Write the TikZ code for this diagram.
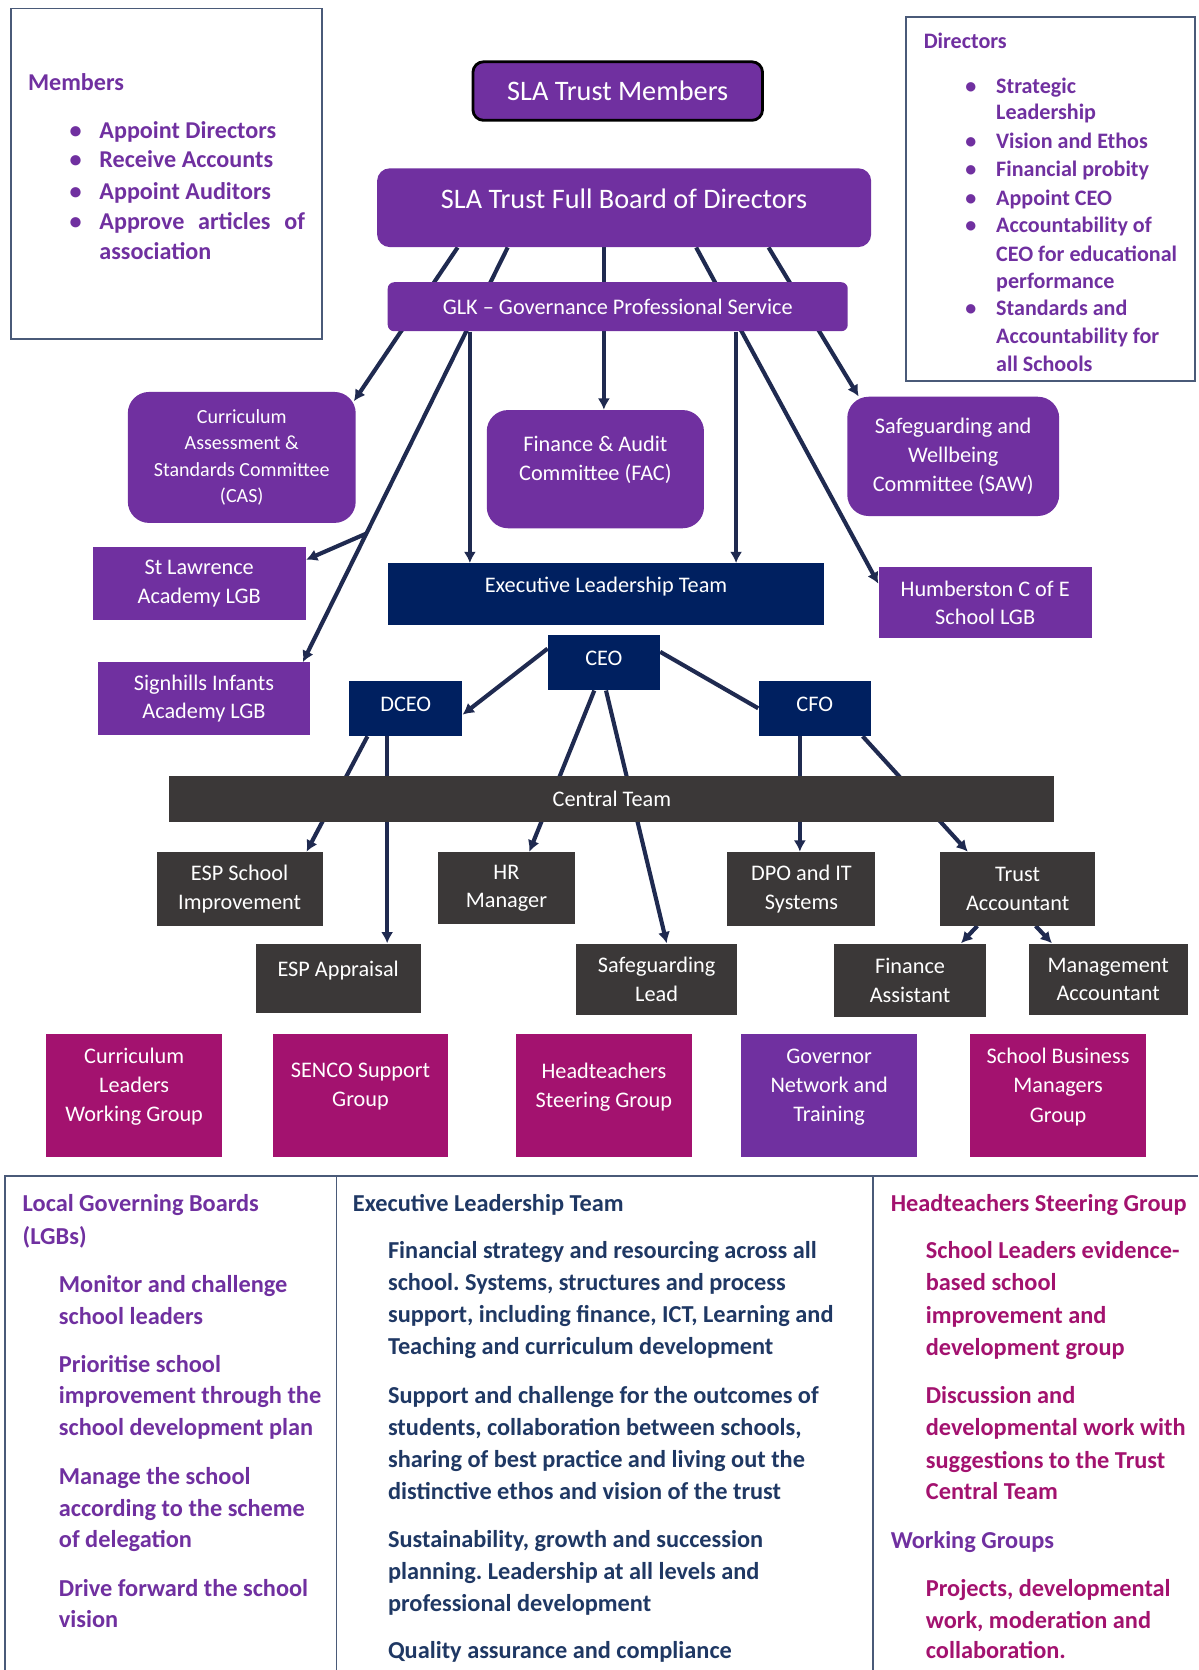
\documentclass[tikz,border=0pt]{standalone}
\usepackage{fontspec}
\setmainfont{Carlito}
\usepackage{tikz}
\usetikzlibrary{arrows.meta,calc}
\pgfdeclarelayer{back}
\pgfdeclarelayer{lines}
\pgfsetlayers{back,lines,main}
\definecolor{slapurple}{HTML}{7030A0}
\definecolor{slanavy}{HTML}{002060}
\definecolor{slagray}{HTML}{3B3838}
\definecolor{slaberry}{HTML}{A3126F}
\definecolor{linenavy}{HTML}{1F2A50}
\definecolor{framegray}{HTML}{4A5A78}
\definecolor{textnavy}{HTML}{1F3864}
\definecolor{textpurple}{HTML}{7030A0}
\definecolor{textberry}{HTML}{A3126F}
\frenchspacing

\begin{document}
\begin{tikzpicture}[x=0.02cm, y=-0.02cm,
    orgbox/.style={inner sep=0pt, align=center, text=white, font=\fontsize{11.9}{15.3}\selectfont},
    comm/.style={orgbox, fill=slapurple, rounded corners=0.4cm},
    lgb/.style={orgbox, fill=slapurple},
    exec/.style={orgbox, fill=slanavy},
    staff/.style={orgbox, fill=slagray},
    grp/.style={orgbox, minimum width=3.3cm, minimum height=2.3cm},
    boxtext/.style={inner sep=0pt, align=center, text=white, font=\fontsize{11.9}{15.6}\selectfont},
    infobox/.style={draw=framegray, line width=1pt, inner sep=0pt},
    conn/.style={draw=linenavy, line width=2.2pt},
    arr/.style={conn, -{Latex[length=6pt,width=6.5pt]}},
    listtext/.style={anchor=west, inner sep=0pt, text height=11pt, text depth=1.2pt, font=\bfseries\fontsize{13}{15}\selectfont},
    memitem/.style={listtext, text=textpurple, font=\bfseries\fontsize{12.9}{15}\selectfont},
    diritem/.style={listtext, text=textpurple, font=\bfseries\fontsize{11.8}{14}\selectfont},
    lgbtext/.style={listtext, text=textpurple},
    elttext/.style={listtext, text=textnavy},
    hsgtext/.style={listtext, text=textberry}]

    \useasboundingbox (0,0) rectangle (1125,1568);
    \begin{pgfonlayer}{back}
        \fill[white] (0,0) rectangle (1125,1568);
    \end{pgfonlayer}

    % Members note
    \node[infobox, minimum width=5.84cm, minimum height=6.2cm] (memnote) at (156,163) {};
    \node[memitem] (memhead) at (26,76) {Members};
    \foreach \y/\bul/\txt [count=\i] in {121/\textbullet/Appoint Directors, 149/\textbullet/Receive Accounts,
        179/\textbullet/Appoint Auditors, 207/\textbullet/{\makebox[3.86cm][s]{Approve articles of}}, 235//association}
        \node[memitem] (mem\i) at (65,\y) {\makebox[0.56cm][l]{\bul}\txt};

    % Directors note
    \node[infobox, minimum width=5.42cm, minimum height=6.84cm] (dirnote) at (986.5,187) {};
    \node[diritem] (dirhead) at (867,37) {Directors};
    \foreach \y/\bul/\txt [count=\i] in {79/\textbullet/Strategic, 104//Leadership, 131/\textbullet/Vision and Ethos,
        157/\textbullet/Financial probity, 184/\textbullet/Appoint CEO, 210/\textbullet/Accountability of,
        237//CEO for educational, 262//performance, 288/\textbullet/Standards and, 314//Accountability for, 340//all Schools}
        \node[diritem] (dir\i) at (906,\y) {\makebox[0.58cm][l]{\bul}\txt};

    % Trust and board
    \node[orgbox, fill=slapurple, draw=black, line width=1.5pt, rounded corners=0.2cm, font=\fontsize{15.1}{18}\selectfont,
        minimum width=5.44cm, minimum height=1.1cm] (members) at (580,85.5) {SLA Trust Members};
    \node[lgb, rounded corners=0.24cm, minimum width=9.28cm, minimum height=1.48cm] (board) at (586,195) {};
    \node[boxtext, font=\fontsize{15.1}{18}\selectfont] (board-t) at ([yshift=0.16cm]board.center) {SLA Trust Full Board of Directors};
    \node[lgb, rounded corners=0.12cm, minimum width=8.64cm, minimum height=0.92cm] (glk) at (580,288) {GLK – Governance Professional Service};

    % Committees
    \node[comm, minimum width=4.28cm, minimum height=2.46cm, font=\fontsize{10.7}{14.2}\selectfont] (cas) at (227,429.5)
        {Curriculum\\Assessment \&\\Standards Committee\\(CAS)};
    \node[comm, minimum width=4.08cm, minimum height=2.22cm] (fac) at (559,440.5) {};
    \node[boxtext] (fac-t) at ([yshift=0.17cm]fac.center) {Finance \& Audit\\Committee (FAC)};
    \node[comm, minimum width=3.98cm, minimum height=2.24cm] (saw) at (895,428.5) {Safeguarding and\\Wellbeing\\Committee (SAW)};

    % Local governing boards
    \node[lgb, minimum width=4cm, minimum height=1.36cm] (stl) at (187,548) {St Lawrence\\Academy LGB};
    \node[lgb, minimum width=3.98cm, minimum height=1.36cm] (sig) at (191.5,656) {Signhills Infants\\Academy LGB};
    \node[lgb, minimum width=4cm, minimum height=1.34cm] (hum) at (925,566) {Humberston C of E\\School LGB};

    % Executive
    \node[exec, minimum width=8.2cm, minimum height=1.16cm] (elt) at (569,558) {};
    \node[boxtext] (elt-t) at ([yshift=0.14cm]elt.center) {Executive Leadership Team};
    \node[exec, minimum width=2.1cm, minimum height=1.04cm] (ceo) at (567,622) {};
    \node[boxtext] (ceo-t) at ([yshift=0.08cm]ceo.center) {CEO};
    \node[exec, minimum width=2.12cm, minimum height=1.04cm] (dceo) at (381,665) {};
    \node[boxtext] (dceo-t) at ([yshift=0.08cm]dceo.center) {DCEO};
    \node[exec, minimum width=2.11cm, minimum height=1.04cm] (cfo) at (765,665) {};
    \node[boxtext] (cfo-t) at ([yshift=0.08cm]cfo.center) {CFO};

    % Central team
    \node[staff, minimum width=16.62cm, minimum height=0.86cm] (central) at (574.5,750.5) {Central Team};
    \node[staff, minimum width=3.12cm, minimum height=1.38cm] (espsi) at (225,834.5) {ESP School\\Improvement};
    \node[staff, minimum width=2.58cm, minimum height=1.36cm] (hr) at (475.5,834) {HR\\Manager};
    \node[staff, minimum width=2.78cm, minimum height=1.38cm] (dpo) at (752.5,834.5) {DPO and IT\\Systems};
    \node[staff, minimum width=2.9cm, minimum height=1.38cm] (tacc) at (955.5,834.5) {Trust\\Accountant};
    \node[staff, minimum width=3.1cm, minimum height=1.3cm] (espa) at (317.5,918.5) {};
    \node[boxtext] (espa-t) at ([yshift=0.15cm]espa.center) {ESP Appraisal};
    \node[staff, minimum width=3.02cm, minimum height=1.34cm] (sgl) at (616.5,919.5) {Safeguarding\\Lead};
    \node[staff, minimum width=2.86cm, minimum height=1.38cm] (fina) at (854.5,920.5) {Finance\\Assistant};
    \node[staff, minimum width=2.98cm, minimum height=1.34cm] (macc) at (1040.5,919.5) {Management\\Accountant};

    % Groups
    \foreach \n/\x/\c/\txt in {clwg/126/slaberry/{Curriculum\\Leaders\\Working Group}, senco/338.5/slaberry/{SENCO Support\\Group},
        hsg/567/slaberry/{Headteachers\\Steering Group}, gnt/778.5/slapurple/{Governor\\Network and\\Training},
        sbm/993.5/slaberry/{School Business\\Managers\\Group}} {
        \node[grp, fill=\c] (\n) at (\x,1028.5) {};
        \node[boxtext] (\n-t) at ([yshift=0.16cm]\n.center) {\txt};
    }

    % Connectors
    \begin{pgfonlayer}{lines}
        \draw[arr] ([xshift=1.52cm]board.south west) -- ([xshift=-0.04cm,yshift=-0.18cm]cas.north east);
        \draw[arr] ([xshift=2.46cm]board.south west) -- coordinate[pos=0.69] (fork) ([xshift=-0.14cm]sig.north east);
        \draw[arr] (fork) -- ([yshift=-0.24cm]stl.north east);
        \draw[arr] ([xshift=0.16cm]fac.north |- board.south) -- ([xshift=0.16cm]fac.north);
        \draw[arr] ([xshift=6cm]board.south west) -- ([yshift=0.36cm]hum.west);
        \draw[arr] ([xshift=7.36cm]board.south west) -- ([xshift=0.22cm]saw.north west);
        \draw[arr] ([xshift=1.55cm]elt.north west |- glk.south) -- ([xshift=1.55cm]elt.north west);
        \draw[arr] ([xshift=6.55cm]elt.north west |- glk.south) -- ([xshift=6.55cm]elt.north west);
        \draw[arr] ([yshift=0.26cm]ceo.west) -- ([yshift=-0.12cm]dceo.east);
        \draw[conn] ([yshift=0.2cm]ceo.east) -- (cfo.west);
        \draw[arr] ([xshift=-0.18cm]ceo.south) -- ([xshift=0.43cm]hr.north);
        \draw[arr] ([xshift=0.04cm]ceo.south) -- ([xshift=0.19cm]sgl.north);
        \draw[arr] ([xshift=-0.72cm]dceo.south) -- ([xshift=-0.31cm]espsi.north east);
        \draw[arr] ([xshift=-0.35cm]dceo.south) -- ([xshift=-0.35cm]dceo.south |- espa.north);
        \draw[arr] ([xshift=-0.28cm]cfo.south) -- ([xshift=-0.28cm]cfo.south |- dpo.north);
        \draw[arr] ([xshift=0.9cm]cfo.south) -- ([xshift=0.52cm]tacc.north west);
        \draw[arr] ([xshift=0.7cm]tacc.south west) -- ([xshift=-0.48cm]fina.north east);
        \draw[arr] ([xshift=-1.12cm]tacc.south east) -- ([xshift=0.44cm]macc.north west);
    \end{pgfonlayer}

    % Roles table
    \draw[framegray, line width=1pt] (5,1568) -- (5,1104) -- (1125,1104);
    \draw[framegray, line width=1pt] (316,1104) -- (316,1568);
    \draw[framegray, line width=1pt] (820,1104) -- (820,1568);

    \node[lgbtext] (lgbh1) at (21,1129) {Local Governing Boards};
    \node[lgbtext] (lgbh2) at (21,1160) {(LGBs)};
    \foreach \y/\txt [count=\i] in {1204.5/Monitor and challenge, 1235/school leaders, 1279.6/Prioritise school,
        1309/improvement through the, 1339/school development plan, 1385/Manage the school,
        1415/according to the scheme, 1444.6/of delegation, 1490/Drive forward the school, 1519.7/vision}
        \node[lgbtext] (lgb\i) at (55,\y) {\txt};

    \node[elttext] (elth) at (331,1129) {Executive Leadership Team};
    \foreach \y/\txt [count=\i] in {1173/Financial strategy and resourcing across all, 1203/{school. Systems, structures and process},
        1233/{support, including finance, ICT, Learning and}, 1263/Teaching and curriculum development,
        1309/Support and challenge for the outcomes of, 1339/{students, collaboration between schools,},
        1369/sharing of best practice and living out the, 1399/distinctive ethos and vision of the trust,
        1444/{Sustainability, growth and succession}, 1474/planning. Leadership at all levels and,
        1504/professional development, 1549/Quality assurance and compliance}
        \node[elttext] (eltl\i) at (364,\y) {\txt};

    \node[hsgtext] (hsgh) at (836,1129) {Headteachers Steering Group};
    \foreach \y/\txt [count=\i] in {1173/School Leaders evidence-, 1203/based school, 1234/improvement and,
        1264/development group, 1309/Discussion and, 1339/developmental work with, 1370/suggestions to the Trust,
        1399/Central Team, 1490/{Projects, developmental}, 1520/{work, moderation and}, 1549/collaboration.}
        \node[hsgtext] (hsg\i) at (869,\y) {\txt};
    \node[lgbtext] (wgh) at (836,1445) {Working Groups};
\end{tikzpicture}
\end{document}
